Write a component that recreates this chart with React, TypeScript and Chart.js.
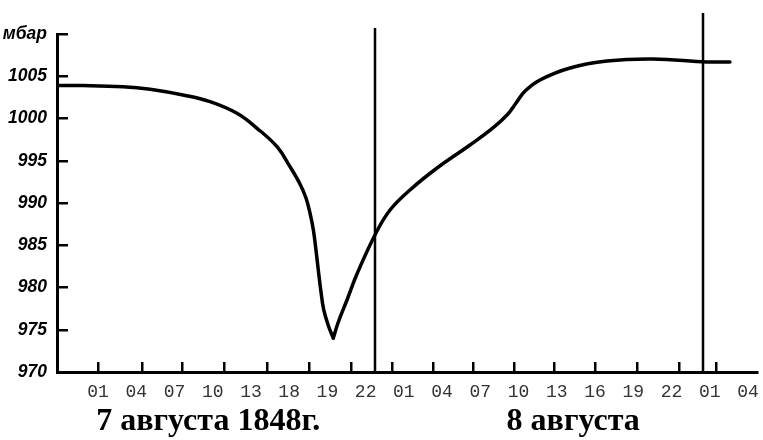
import React, { useEffect, useRef } from 'react';
import { Chart, registerables } from 'chart.js';

Chart.register(...registerables);

// Pressure curve (hours from 7 Aug 00:00, mbar)
const hours = [0.81, 2.63, 5.56, 7.54, 9.95, 11.93, 13.9, 15.37, 16.83, 17.78, 18.51, 18.95, 19.24, 19.49, 19.68, 19.85, 20.03, 20.25, 20.62, 20.95, 21.29, 21.95, 22.68, 24.07, 25.1, 26.56, 28.54, 30.95, 32.63, 33.73, 34.32, 34.98, 36.07, 38.27, 40.98, 44.34, 48.29, 49.97];
const pressure = [1003.9, 1003.9, 1003.76, 1003.46, 1002.78, 1001.99, 1000.61, 998.84, 996.66, 994.3, 992.25, 990.59, 988.82, 986.8, 984.44, 982.07, 979.7, 977.34, 975.33, 974.02, 975.8, 978.52, 981.6, 986.45, 989.17, 991.54, 994.14, 996.86, 998.88, 1000.53, 1001.83, 1003.25, 1004.56, 1005.98, 1006.8, 1007.04, 1006.69, 1006.69];

// Midnight marker lines
const midnightHours = [24, 48];
const midnightTops = [1010.7, 1012.5];

// Small tick marks on the time axis (hours)
const hourTicks = [3.74, 6.96, 9.88, 12.95, 16.1, 19.17, 22.24, 25.24, 28.24, 31.17, 34.17, 37.1, 40.1, 43.17, 46.24, 49.0];

// Pressure axis
const pressureTicks = [970, 975, 980, 985, 990, 995, 1000, 1005, 1010];
const unitLabel = 'мбар';

// Time label row
const timeLabels = ['01', '04', '07', '10', '13', '18', '19', '22', '01', '04', '07', '10', '13', '16', '19', '22', '01', '04'];

// Date captions
const dateLabels = ['7 августа 1848г.', '8 августа'];
const dateHours = [11.8, 38.5];

const X_MIN = 0.732;
const X_MAX = 51.95;

export default function App() {
  const ref = useRef<HTMLCanvasElement | null>(null);

  useEffect(() => {
    document.body.style.margin = '0';
    const canvas = ref.current;
    if (!canvas) return;

    const curve = hours.map((h, i) => ({ x: h, y: pressure[i] }));
    // split at the minimum so the trough stays a sharp "V"
    const minIdx = pressure.indexOf(Math.min(...pressure));
    const branches = [curve.slice(0, minIdx + 1), curve.slice(minIdx)].map((d, i) => ({
      label: 'pressure' + i,
      data: d,
      borderColor: '#000',
      borderWidth: 3.5,
      pointRadius: 0,
      tension: 0.4,
      borderCapStyle: 'round',
      borderJoinStyle: 'round',
      xAxisID: 'x',
      yAxisID: 'y',
    }));
    const midDatasets = midnightHours.map((h, i) => ({
      label: 'midnight' + i,
      data: [{ x: h, y: 970 }, { x: h, y: midnightTops[i] }],
      borderColor: '#000',
      borderWidth: 2.5,
      pointRadius: 0,
      clip: false as any,
      xAxisID: 'x',
      yAxisID: 'y',
    }));

    const chart = new Chart(canvas, {
      type: 'line',
      data: { datasets: [...branches, ...midDatasets] as any },
      options: {
        animation: false,
        responsive: false,
        devicePixelRatio: 1,
        layout: { padding: { left: 0, top: 34, right: 6, bottom: 0 } },
        plugins: { legend: { display: false }, tooltip: { enabled: false } },
        scales: {
          x: {
            type: 'linear',
            position: 'bottom',
            min: X_MIN,
            max: X_MAX,
            weight: 0,
            afterBuildTicks: (s: any) => { s.ticks = hourTicks.map((v) => ({ value: v })); },
            afterFit: (s: any) => { s.height = 0; s.paddingLeft = 0; s.paddingRight = 0; },
            ticks: { display: false },
            grid: { drawOnChartArea: false, drawTicks: true, tickLength: -10, color: '#000', lineWidth: 2.5 },
            border: { display: true, color: '#000', width: 3 },
          },
          xl: {
            type: 'linear',
            position: 'bottom',
            min: -1.0723,
            max: 17.236,
            weight: 1,
            afterBuildTicks: (s: any) => { s.ticks = timeLabels.map((_, i) => ({ value: i })); },
            afterFit: (s: any) => { s.height = 30; s.paddingLeft = 0; s.paddingRight = 0; },
            ticks: {
              autoSkip: false,
              maxRotation: 0,
              minRotation: 0,
              padding: 9,
              color: '#333',
              font: { family: '"Liberation Mono", "DejaVu Sans Mono", monospace', size: 18 },
              callback: (_v: any, i: number) => timeLabels[i],
            },
            grid: { display: false, drawTicks: false },
            border: { display: false },
          },
          xd: {
            type: 'linear',
            position: 'bottom',
            min: X_MIN,
            max: X_MAX,
            weight: 2,
            afterBuildTicks: (s: any) => { s.ticks = dateHours.map((v) => ({ value: v })); },
            afterFit: (s: any) => { s.height = 38; s.paddingLeft = 0; s.paddingRight = 0; },
            ticks: {
              autoSkip: false,
              maxRotation: 0,
              minRotation: 0,
              padding: 1,
              color: '#000',
              font: { family: '"Liberation Serif", "DejaVu Serif", serif', size: 32, weight: 'bold' },
              callback: (_v: any, i: number) => dateLabels[i],
            },
            grid: { display: false, drawTicks: false },
            border: { display: false },
          },
          y: {
            type: 'linear',
            position: 'left',
            min: 970,
            max: 1010,
            afterBuildTicks: (s: any) => { s.ticks = pressureTicks.map((v) => ({ value: v })); },
            afterFit: (s: any) => { s.width = 57; s.paddingTop = 0; s.paddingBottom = 0; },
            ticks: {
              autoSkip: false,
              padding: 21,
              color: '#000',
              font: { family: '"Liberation Sans", Arial, sans-serif', size: 17.5, style: 'italic', weight: 'bold' },
              callback: (v: any) => (v === 1010 ? unitLabel : String(v)),
            },
            grid: { drawOnChartArea: false, drawTicks: true, tickLength: -11, color: '#000', lineWidth: 2.5 },
            border: { display: true, color: '#000', width: 3 },
          },
        },
      } as any,
    });

    return () => chart.destroy();
  }, []);

  return (
    <div style={{ width: 763, height: 440 }}>
      <canvas ref={ref} width={763} height={440} style={{ display: 'block', width: 763, height: 440 }} />
    </div>
  );
}
